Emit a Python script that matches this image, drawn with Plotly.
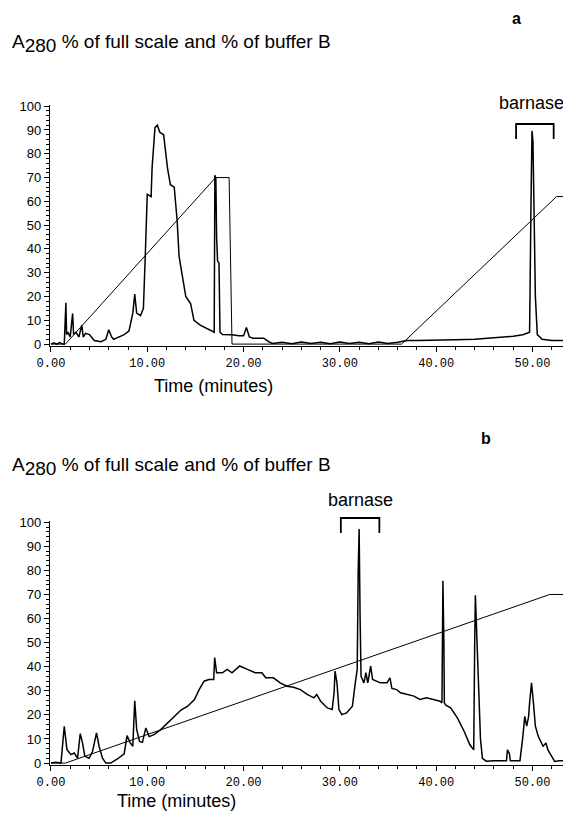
import plotly.graph_objects as go

# ---------------- Panel a data ----------------
a_time = [0, 0.3, 0.6, 0.9, 1.2, 1.38, 1.42, 1.55, 1.62, 1.75, 2.0, 2.25, 2.35, 2.6, 2.9, 3.2, 3.35, 3.6, 4.0, 4.5,
          5.2, 5.7, 6.0, 6.3, 6.5, 7.0, 7.6, 8.1, 8.5, 8.7, 8.9, 9.3, 9.6, 9.8, 10.0, 10.4, 10.5, 10.8,
          11.05, 11.3, 11.7, 12.1, 12.4, 12.8, 13.1, 13.3, 13.6, 14.0, 14.5, 14.85, 15.5, 16.2, 16.9,
          16.95, 17.02, 17.12, 17.2, 17.3, 17.45, 17.55, 17.8, 18.3, 18.8, 19.5, 20.0, 20.3, 20.6, 21.0,
          22.1, 22.6, 23.0, 24, 25, 26, 27, 28, 29, 30, 31, 32, 33, 34, 35, 36, 37, 38, 40, 42, 44, 46, 47,
          48, 49.0, 49.7, 49.85, 49.95, 50.05, 50.15, 50.3, 50.5, 51.0, 52.0, 53.0, 54.0]
a_a280 = [0, 0.5, 0, 0.6, 0, 0, 3.9, 17.4, 4, 5, 3, 12.9, 4, 5, 3, 8, 3, 4.5, 4, 1.5,
          1, 2, 6, 3, 2, 3, 4, 5.5, 13, 21, 13, 12, 15, 38, 63, 62, 74, 91,
          92, 89, 88, 74, 67, 66, 52, 37, 30, 20, 17, 10, 8, 6.5, 5,
          5, 71, 70, 45, 35, 34, 5, 4, 4, 3.9, 3.5, 3.5, 7, 3, 2.5,
          2.5, 1, 0.3, 0.8, 0.2, 0.9, 0.3, 0.8, 0.2, 0.9, 0.3, 0.8, 0.2, 0.9, 0.3, 0.8, 1.5, 1.5, 1.5, 1.8, 2, 2.5, 2.8,
          3.3, 3.9, 5, 60, 89.6, 85, 60, 20, 4, 2, 1.5, 1.5, 1.5]
a_grad_time = [0, 1.5, 17.1, 18.5, 18.8, 36.4, 52.5, 53.3, 53.6, 54.0]
a_grad = [0, 0, 70, 70, 0, 0, 62, 62, 0, 0]

# ---------------- Panel b data ----------------
b_time = [0, 0.5, 1.04, 1.38, 1.66, 2.07, 2.42, 2.76, 3.04, 3.28, 3.52, 3.97, 4.32, 4.73, 5.0, 5.35, 5.7, 6.2,
          6.9, 7.6, 7.9, 8.2, 8.5, 8.7, 8.9, 9.2, 9.5, 9.85, 10.2, 10.7, 11.4, 12.1, 12.8, 13.5, 14.2,
          14.9, 15.4, 15.9, 16.4, 16.9, 17.0, 17.2, 17.8, 18.3, 18.8, 19.6, 20.4, 21.2, 21.9, 22.3,
          23.1, 23.8, 24.5, 25.2, 25.9, 26.6, 27.3, 27.6, 28.0, 28.7, 29.2, 29.4, 29.5, 29.7, 29.9,
          30.2, 30.7, 31.3, 31.6, 31.8, 31.9, 32.0, 32.1, 32.2, 32.5, 32.7, 32.9, 33.2, 33.4, 33.9,
          34.2, 34.9, 35.2, 35.4, 35.9, 36.3, 37.0, 37.7, 38.3, 39.0, 39.7, 40.4, 40.6, 40.65, 40.7,
          40.8, 40.85, 41.0, 41.5, 42.2, 42.9, 43.5, 43.9, 44.0, 44.07, 44.2, 44.4, 44.6, 44.8, 45.2,
          46.0, 47.0, 47.3, 47.4, 47.6, 47.7, 48.7, 49.0, 49.2, 49.4, 49.6, 49.7, 49.9, 50.1, 50.3,
          50.6, 51.1, 51.4, 51.6, 52.0, 52.3, 52.8, 54.0]
b_a280 = [0, 0.3, 0, 15.3, 5.6, 3.5, 4.2, 2, 12.2, 8.3, 2.8, 2, 4.9, 12.5, 7, 2, 0, 0,
          1.7, 3.8, 11.4, 8.6, 7, 25.9, 14, 9, 8.6, 14.6, 11, 11.8, 13.9, 16.7, 19.4, 22, 23.6,
          26.4, 30.6, 34, 34.7, 34.7, 43.8, 37.5, 37.5, 38.9, 37.5, 40.3, 38.9, 37.5, 37.5, 35.4,
          35.4, 33.3, 31.9, 31.5, 30.5, 28.5, 27.1, 28.5, 25.7, 22.9, 22.2, 29.2, 38.2, 33.3, 22.2,
          20.1, 20.8, 23.6, 33.3, 38.9, 79, 97.2, 60, 36, 33.3, 37.5, 33.3, 40.3, 34.7, 34,
          33.3, 33.3, 35.4, 31, 30.5, 29.2, 28.5, 27.8, 26.4, 27.1, 26.4, 25.7, 25, 55, 75.7,
          50, 25, 24, 22.9, 18.8, 13.2, 7.6, 5.5, 50, 69.7, 55, 30, 10, 2, 0.8,
          1, 1, 1, 5.5, 4, 1, 1, 11, 19.4, 15.3, 19.4, 25, 33.3, 25, 15.3,
          11.1, 7, 8.3, 5.5, 2.8, 0.7, 1, 1]
b_grad_time = [0, 1.5, 51.8, 54.0]
b_grad = [0, 0, 70, 70]

x_tickvals = [0, 10, 20, 30, 40, 50]
x_ticktext = ["0.00", "10.00", "20.00", "30.00", "40.00", "50.00"]
y_tickvals = [0, 10, 20, 30, 40, 50, 60, 70, 80, 90, 100]

W, H = 571, 817
OX, OY = 8, 8  # page body margin
def px_(x):
    return (x - OX) / W
def py(y):
    return 1 - (y - OY) / H

fig = go.Figure()
line_a = dict(color="black", width=1.5)
line_g = dict(color="black", width=1.0)
fig.add_trace(go.Scatter(x=a_time, y=a_a280, mode="lines", line=line_a, xaxis="x", yaxis="y", showlegend=False))
fig.add_trace(go.Scatter(x=a_grad_time, y=a_grad, mode="lines", line=line_g, xaxis="x", yaxis="y", showlegend=False))
fig.add_trace(go.Scatter(x=b_time, y=b_a280, mode="lines", line=line_a, xaxis="x2", yaxis="y2", showlegend=False))
fig.add_trace(go.Scatter(x=b_grad_time, y=b_grad, mode="lines", line=line_g, xaxis="x2", yaxis="y2", showlegend=False))

xa = dict(range=[-0.1, 54], tickvals=x_tickvals, ticktext=x_ticktext, ticks="outside", ticklen=5,
          tickwidth=1, tickcolor="black", showline=True, linecolor="black", linewidth=1.2,
          showgrid=False, zeroline=False, automargin=False,
          minor=dict(dtick=2, ticks="outside", ticklen=3, tickcolor="black", showgrid=False),
          tickfont=dict(family="Liberation Mono", size=12, color="black"))
ya = dict(range=[-0.8, 100.5], tickvals=y_tickvals, ticks="outside", ticklen=5, tickwidth=1,
          tickcolor="black", showline=True, linecolor="black", linewidth=1.2, showgrid=False,
          zeroline=False, automargin=False,
          minor=dict(dtick=2, ticks="outside", ticklen=3, tickcolor="black", showgrid=False),
          tickfont=dict(family="Liberation Sans", size=13, color="black"))

fig.update_layout(
    width=W, height=H, margin=dict(l=0, r=0, t=0, b=0, autoexpand=False),
    paper_bgcolor="white", plot_bgcolor="white",
    xaxis=dict(xa, domain=[px_(50), px_(571)], anchor="y"),
    yaxis=dict(ya, domain=[py(346), py(105)], anchor="x"),
    xaxis2=dict(xa, domain=[px_(50), px_(571)], anchor="y2"),
    yaxis2=dict(ya, domain=[py(765), py(521)], anchor="x2"),
)

tfont = dict(family="Liberation Sans", size=19, color="black")
lfont = dict(family="Liberation Sans", size=18, color="black")
title_txt = 'A<sub><span style="font-size:19px">280</span></sub> % of full scale and % of buffer B'
ann = [
    dict(text="<b>a</b>", x=px_(516), y=py(18), font=dict(family="Liberation Sans", size=16, color="black")),
    dict(text="<b>b</b>", x=px_(486), y=py(438), font=dict(family="Liberation Sans", size=16, color="black")),
    dict(text=title_txt, x=px_(10), y=py(44), xanchor="left", font=tfont),
    dict(text=title_txt, x=px_(10), y=py(466), xanchor="left", font=tfont),
    dict(text="Time (minutes)", x=px_(213), y=py(386), font=lfont),
    dict(text="Time (minutes)", x=px_(176), y=py(801), font=lfont),
]
for a in ann:
    a.setdefault("xanchor", "center")
    fig.add_annotation(xref="paper", yref="paper", yanchor="middle", showarrow=False, **a)

# barnase labels and brackets
fig.add_annotation(text="barnase", x=49.9, y=py(103), xref="x", yref="paper", showarrow=False,
                   font=lfont, yanchor="middle")
fig.add_annotation(text="barnase", x=32.1, y=py(500), xref="x2", yref="paper", showarrow=False,
                   font=lfont, yanchor="middle")
fig.add_shape(type="path", xref="x", yref="paper",
              path=f"M 48.3 {py(139)} L 48.3 {py(124)} L 52.2 {py(124)} L 52.2 {py(139)}",
              line=dict(color="black", width=1.8))
fig.add_shape(type="path", xref="x2", yref="paper",
              path=f"M 30.1 {py(533)} L 30.1 {py(518)} L 34.1 {py(518)} L 34.1 {py(533)}",
              line=dict(color="black", width=1.8))

fig.write_html("out.html")
